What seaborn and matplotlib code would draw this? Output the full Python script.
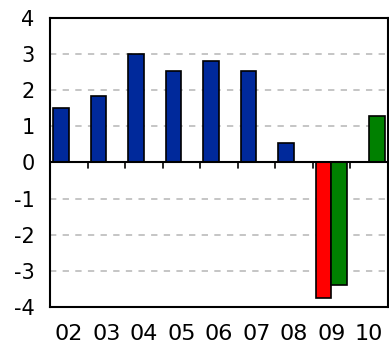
import numpy as np
import pandas as pd
import seaborn as sns
import matplotlib.pyplot as plt

years = ['02', '03', '04', '05', '06', '07', '08', '09', '10']
series_a = [1.5, 1.85, 3.0, 2.52, 2.82, 2.52, 0.55, -3.75, np.nan]
series_b = [np.nan] * 7 + [-3.38, 1.3]
blue = '#00299B'
red = '#FF0000'
green = '#008000'

df = pd.DataFrame({
    'year': years * 2,
    'value': series_a + series_b,
    'series': ['a'] * len(years) + ['b'] * len(years),
})

sns.set_style('white')
plt.rcParams['font.family'] = ['DejaVu Sans']

fig = plt.figure(figsize=(3.89, 3.51), dpi=100)
ax = fig.add_axes([0.1285, 0.1254, 0.868, 0.8233])

# grid first so bars sit on top
for v in [-3, -2, -1, 1, 2, 3]:
    ax.axhline(v, color='#c0c0c0', lw=1.3, ls=(0, (3.5, 3.5)), zorder=0)

sns.barplot(data=df, x='year', y='value', hue='series', palette=[blue, green],
            width=0.84, edgecolor='black', linewidth=1.2, legend=False,
            saturation=1, ax=ax, zorder=2)

# 09 bar of first series is red
for p in ax.patches:
    if p.get_height() < -3.6:
        p.set_facecolor(red)

ax.axhline(0, color='black', lw=1.5, zorder=3)
for k in range(len(years) + 1):
    ax.plot([k - 0.5, k - 0.5], [0, -0.15], color='black', lw=1.2, zorder=3,
            clip_on=False)

ax.set_xlim(-0.5, len(years) - 0.5)
ax.set_ylim(-4, 4)
ax.set_yticks(range(-4, 5))
ax.set_yticklabels(['-4', '-3', '-2', '-1', '0', '1', '2', '3', '4'])
ax.tick_params(axis='y', length=0, pad=11, labelsize=15, labelcolor='black')
ax.tick_params(axis='x', length=0, pad=12, labelsize=16, labelcolor='black')
ax.set_xlabel('')
ax.set_ylabel('')
for s in ax.spines.values():
    s.set_color('black')
    s.set_linewidth(1.5)
    s.set_visible(True)

fig.savefig('out.png', dpi=100)
